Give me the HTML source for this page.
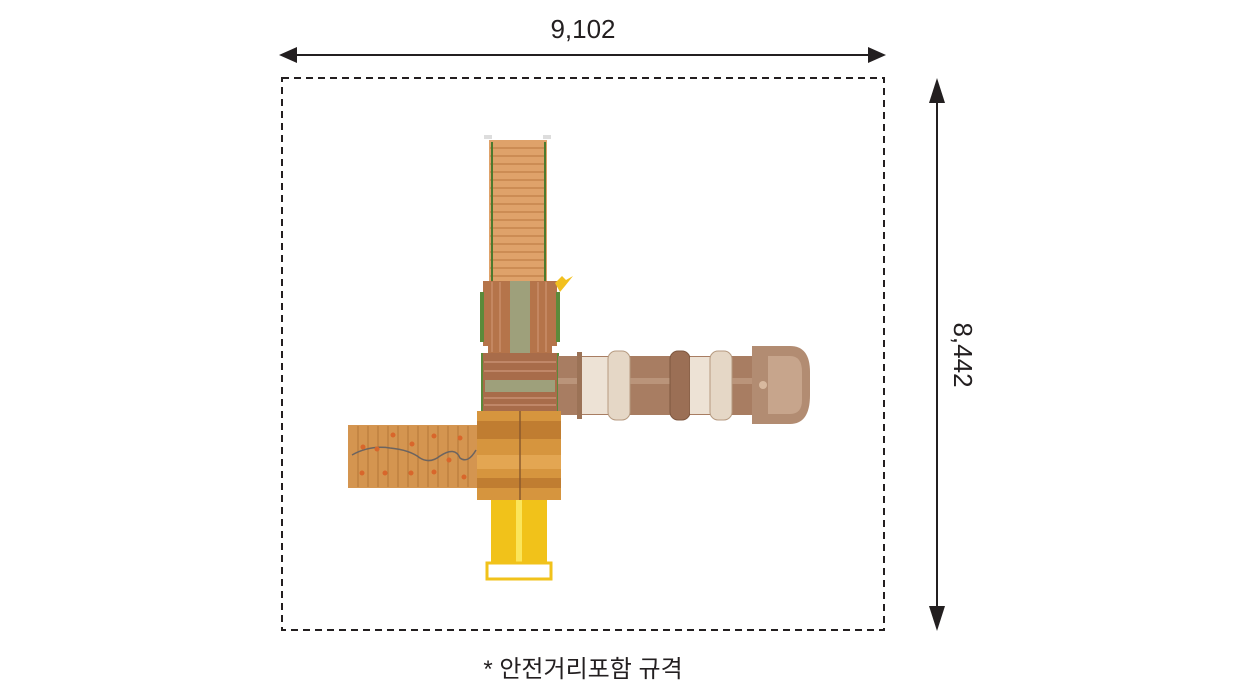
<!DOCTYPE html>
<html><head><meta charset="utf-8"><style>
html,body{margin:0;padding:0;background:#fff}
svg{display:block}
text{font-family:"Liberation Sans","Noto Sans CJK KR",sans-serif;fill:#231f20}
</style></head><body>
<svg width="1256" height="700" viewBox="0 0 1256 700" xmlns="http://www.w3.org/2000/svg">
<!-- dimension top -->
<line x1="295" y1="55" x2="870" y2="55" stroke="#231f20" stroke-width="2"/>
<polygon points="279,55 297,47 297,63" fill="#231f20"/>
<polygon points="886,55 868,47 868,63" fill="#231f20"/>
<text x="583" y="38" font-size="26" text-anchor="middle">9,102</text>
<!-- dimension right -->
<line x1="937" y1="95" x2="937" y2="613" stroke="#231f20" stroke-width="2"/>
<polygon points="937,78 929,103 945,103" fill="#231f20"/>
<polygon points="937,631 929,606 945,606" fill="#231f20"/>
<text x="0" y="0" font-size="26" text-anchor="middle" transform="translate(954,355) rotate(90)">8,442</text>
<!-- dashed rect -->
<rect x="282" y="78" width="602" height="552" fill="none" stroke="#231f20" stroke-width="2" stroke-dasharray="7,5"/>
<text x="583" y="677" font-size="24" text-anchor="middle">* 안전거리포함 규격</text>

<!-- stair -->
<rect x="484" y="135" width="8" height="4" fill="#ddd"/>
<rect x="543" y="135" width="8" height="4" fill="#ddd"/>
<rect x="489" y="140" width="58" height="142" fill="#dfa26a"/>
<g stroke="#b9773f" stroke-width="1">
<line x1="490" y1="148" x2="546" y2="148"/><line x1="490" y1="156" x2="546" y2="156"/><line x1="490" y1="164" x2="546" y2="164"/><line x1="490" y1="172" x2="546" y2="172"/><line x1="490" y1="180" x2="546" y2="180"/><line x1="490" y1="188" x2="546" y2="188"/><line x1="490" y1="196" x2="546" y2="196"/><line x1="490" y1="204" x2="546" y2="204"/><line x1="490" y1="212" x2="546" y2="212"/><line x1="490" y1="220" x2="546" y2="220"/><line x1="490" y1="228" x2="546" y2="228"/><line x1="490" y1="236" x2="546" y2="236"/><line x1="490" y1="244" x2="546" y2="244"/><line x1="490" y1="252" x2="546" y2="252"/><line x1="490" y1="260" x2="546" y2="260"/><line x1="490" y1="268" x2="546" y2="268"/><line x1="490" y1="276" x2="546" y2="276"/>
</g>
<line x1="492" y1="142" x2="492" y2="282" stroke="#4c7a2e" stroke-width="2"/>
<line x1="545" y1="142" x2="545" y2="282" stroke="#4c7a2e" stroke-width="2"/>
<!-- upper platform -->
<rect x="483" y="281" width="74" height="72" fill="#b5744a"/>
<rect x="510" y="281" width="20" height="72" fill="#9ea07b"/>
<g stroke="#d49a78" stroke-width="1">
<line x1="492" y1="282" x2="492" y2="352"/><line x1="500" y1="282" x2="500" y2="352"/><line x1="538" y1="282" x2="538" y2="352"/><line x1="546" y1="282" x2="546" y2="352"/>
</g>
<rect x="480" y="292" width="4" height="50" fill="#5b8a3a"/>
<rect x="556" y="292" width="4" height="50" fill="#5b8a3a"/>
<rect x="481" y="346" width="7" height="7" fill="#fff"/>
<rect x="552" y="346" width="7" height="7" fill="#fff"/>
<polygon points="555,283 562,276 566,280 573,276 565,286 560,292" fill="#f2c01e"/>
<!-- lower deck -->
<rect x="483" y="353" width="74" height="58" fill="#a86c4a"/>
<rect x="485" y="380" width="70" height="12" fill="#9ea07b"/>
<g stroke="#d9a285" stroke-width="1">
<line x1="484" y1="362" x2="556" y2="362"/><line x1="484" y1="371" x2="556" y2="371"/><line x1="484" y1="398" x2="556" y2="398"/><line x1="484" y1="405" x2="556" y2="405"/>
</g>
<line x1="482" y1="353" x2="482" y2="411" stroke="#5b8a3a" stroke-width="2"/>
<line x1="558" y1="353" x2="558" y2="411" stroke="#5b8a3a" stroke-width="2"/>
<!-- tube -->
<rect x="558" y="356" width="200" height="59" fill="#a87d62"/>
<rect x="558" y="378" width="200" height="6" fill="#c6a38a" opacity="0.6"/>
<rect x="577" y="352" width="5" height="67" fill="#9b7256"/>
<rect x="582" y="357" width="40" height="57" fill="#ede2d5"/>
<rect x="608" y="351" width="22" height="69" rx="8" fill="#e5d7c6" stroke="#b69a80"/>
<rect x="670" y="351" width="20" height="69" rx="8" fill="#9b6f55" stroke="#7e573f"/>
<rect x="690" y="357" width="30" height="57" fill="#ede2d5"/>
<rect x="710" y="351" width="22" height="69" rx="8" fill="#e5d7c6" stroke="#b69a80"/>
<path d="M752,346 H790 Q810,346 810,372 V395 Q810,424 790,424 H752 Z" fill="#b28c72"/>
<path d="M768,356 H790 Q802,356 802,372 V400 Q802,414 790,414 H768 Z" fill="#c7a58c"/>
<circle cx="763" cy="385" r="4" fill="#d8b99f"/>
<!-- big deck -->
<rect x="477" y="411" width="84" height="89" fill="#d6953e"/>
<rect x="477" y="421" width="84" height="18" fill="#c07d31"/>
<rect x="477" y="455" width="84" height="14" fill="#e3a652"/>
<rect x="477" y="478" width="84" height="10" fill="#c07d31"/>
<line x1="520" y1="411" x2="520" y2="500" stroke="#8a5a2e" stroke-width="1.5"/>
<!-- climbing wall -->
<rect x="348" y="425" width="129" height="63" fill="#d49550"/>
<g stroke="#b37638" stroke-width="1">
<line x1="358" y1="426" x2="358" y2="487"/><line x1="368" y1="426" x2="368" y2="487"/><line x1="378" y1="426" x2="378" y2="487"/><line x1="388" y1="426" x2="388" y2="487"/><line x1="398" y1="426" x2="398" y2="487"/><line x1="408" y1="426" x2="408" y2="487"/><line x1="418" y1="426" x2="418" y2="487"/><line x1="428" y1="426" x2="428" y2="487"/><line x1="438" y1="426" x2="438" y2="487"/><line x1="448" y1="426" x2="448" y2="487"/><line x1="458" y1="426" x2="458" y2="487"/><line x1="468" y1="426" x2="468" y2="487"/>
</g>
<path d="M352,455 Q370,445 390,448 Q410,450 420,458 Q430,464 440,456 Q455,446 460,458 Q468,464 476,450" fill="none" stroke="#6c6460" stroke-width="1.5"/>
<g fill="#d8662b">
<circle cx="363" cy="447" r="2.5"/><circle cx="377" cy="449" r="2.5"/><circle cx="393" cy="435" r="2.5"/><circle cx="412" cy="444" r="2.5"/><circle cx="434" cy="436" r="2.5"/><circle cx="460" cy="438" r="2.5"/><circle cx="449" cy="460" r="2.5"/><circle cx="362" cy="473" r="2.5"/><circle cx="385" cy="473" r="2.5"/><circle cx="411" cy="473" r="2.5"/><circle cx="434" cy="472" r="2.5"/><circle cx="464" cy="477" r="2.5"/>
</g>
<!-- slide -->
<rect x="491" y="500" width="56" height="62" fill="#f1c21a"/>
<rect x="516" y="500" width="6" height="62" fill="#fbe55a"/>
<rect x="487" y="563" width="64" height="16" fill="none" stroke="#f1c21a" stroke-width="3"/>
</svg>
</body></html>
